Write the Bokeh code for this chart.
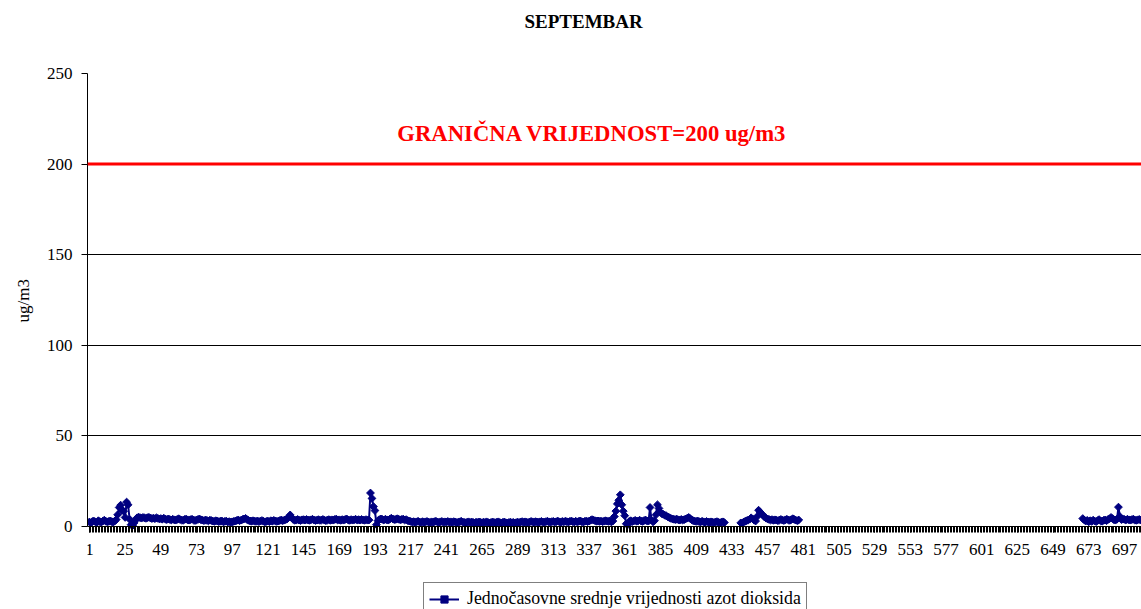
import math
import numpy as np
from bokeh.plotting import figure
from bokeh.models import Range1d, FixedTicker, Span, Label, Legend, LegendItem, LinearAxis, Title
from bokeh.embed import file_html
from bokeh.resources import INLINE

N = None
# Hourly NO2 values (ug/m3) for September, one row per day (24 hours)
day01 = [2.5, 2.0, 2.8, 3.0, 2.6, 2.2, 3.2, 2.7, 2.4, 3.0, 3.5, 2.9, 2.6, 2.8, 3.1, 2.7, 2.4, 3.0, 3.8, 6.5, 10.5, 11.8, 9.0, 8.5]
day02 = [5.0, 13.5, 12.0, 4.0, 1.0, 0.5, 2.0, 3.5, 4.8, 5.2, 4.9, 4.6, 5.0, 4.8, 4.5, 4.9, 5.1, 4.7, 4.4, 4.6, 4.3, 4.8, 4.5, 4.2]
day03 = [4.4, 4.0, 4.6, 4.1, 3.8, 4.2, 3.9, 3.6, 4.0, 3.7, 3.5, 3.9, 4.3, 3.8, 3.6, 3.4, 3.9, 4.1, 3.7, 3.5, 3.8, 4.0, 3.6, 3.3]
day04 = [3.6, 3.9, 4.2, 3.7, 3.5, 3.2, 3.6, 3.4, 3.1, 3.5, 3.3, 3.0, 2.8, 3.2, 3.0, 2.7, 2.9, 3.1, 2.6, 2.8, 3.0, 2.5, 2.7, 2.4]
day05 = [2.6, 2.8, 3.0, 3.3, 3.6, 3.2, 3.5, 3.9, 4.2, 4.5, 3.8, 3.4, 3.1, 2.9, 3.2, 3.0, 2.8, 3.1, 2.7, 3.0, 3.3, 2.9, 2.6, 2.8]
day06 = [3.0, 2.7, 3.2, 2.9, 3.4, 3.1, 2.8, 3.0, 3.3, 3.6, 3.2, 3.5, 3.8, 4.2, 5.2, 6.4, 5.0, 3.9, 3.4, 3.6, 3.9, 3.5, 3.3, 3.7]
day07 = [3.8, 3.5, 3.9, 3.6, 3.4, 3.7, 4.0, 3.6, 3.3, 3.5, 3.8, 3.4, 3.6, 3.9, 3.5, 3.2, 3.6, 3.8, 3.4, 3.7, 3.5, 3.9, 4.1, 3.6]
day08 = [3.7, 3.4, 3.8, 3.5, 3.9, 4.2, 3.6, 3.4, 3.8, 3.5, 3.7, 4.0, 3.6, 3.8, 3.5, 3.9, 3.6, 3.4, 3.8, 3.5, 3.6, 18.5, 15.5, 11.0]
day09 = [8.8, 1.0, 3.2, 3.8, 4.2, 3.9, 3.6, 4.0, 3.7, 3.5, 4.1, 4.6, 4.2, 3.8, 3.9, 4.3, 4.0, 3.7, 3.9, 4.1, 3.6, 3.8, 3.3, 3.0]
day10 = [2.8, 2.5, 2.7, 2.4, 2.6, 2.9, 2.5, 2.3, 2.7, 2.4, 2.6, 2.8, 2.5, 2.2, 2.6, 2.4, 2.7, 2.9, 2.5, 2.3, 2.6, 2.8, 2.4, 2.6]
day11 = [2.5, 2.8, 2.4, 2.6, 2.3, 2.7, 2.5, 2.2, 2.4, 2.6, 2.9, 2.5, 2.3, 2.1, 2.4, 2.6, 2.2, 2.5, 2.3, 2.0, 2.4, 2.2, 2.5, 2.3]
day12 = [2.1, 2.4, 2.2, 2.6, 2.3, 2.0, 2.2, 2.5, 2.3, 2.1, 2.4, 2.6, 2.2, 2.0, 2.3, 2.5, 2.1, 1.9, 2.2, 2.4, 2.1, 2.3, 2.0, 2.2]
day13 = [2.4, 2.2, 2.5, 2.7, 2.3, 2.6, 2.4, 2.2, 2.5, 2.8, 2.6, 2.4, 2.7, 2.5, 2.3, 2.6, 2.8, 2.5, 2.4, 2.7, 2.9, 2.6, 2.4, 2.7]
day14 = [2.8, 2.5, 2.7, 3.0, 2.6, 2.4, 2.8, 2.6, 2.9, 2.7, 2.5, 2.8, 3.0, 2.7, 2.5, 2.9, 2.6, 2.8, 3.1, 2.7, 2.5, 2.8, 3.0, 2.7]
day15 = [3.0, 3.4, 3.8, 3.5, 3.2, 2.9, 3.1, 2.8, 3.0, 2.7, 2.9, 3.2, 3.0, 2.8, 3.1, 2.5, 3.0, 5.5, 8.5, 12.5, 14.5, 17.5, 12.0, 8.5]
day16 = [6.0, 1.5, 1.0, 2.8, 3.2, 2.7, 3.0, 3.4, 2.9, 3.1, 3.5, 3.0, 2.8, 3.3, 3.6, 3.1, 3.0, 10.5, 3.5, 2.6, 3.2, 6.5, 12.0, 10.0]
day17 = [7.8, 7.0, 6.7, 6.2, 5.8, 5.3, 4.9, 4.5, 4.2, 4.0, 3.8, 4.1, 3.7, 3.5, 3.9, 3.6, 3.8, 4.2, 4.6, 5.0, 4.4, 3.7, 3.2, 3.0]
day18 = [2.8, 3.1, 2.7, 2.5, 2.9, 2.6, 2.4, 2.8, 2.5, 2.3, 2.6, 2.4, 2.2, 2.5, 2.7, 2.3, 2.1, 2.4, 2.6, 2.2, N, N, N, N]
day19 = [N, N, N, N, N, N, 2.0, 1.8, 2.5, 2.9, 3.2, 3.6, 4.0, 4.8, 4.2, 3.5, 3.0, 5.5, 9.0, 8.0, 7.0, 6.2, 5.2, 4.6]
day20 = [4.2, 3.9, 3.6, 3.8, 3.4, 3.7, 3.5, 3.2, 3.6, 3.9, 3.5, 3.3, 3.7, 4.0, 3.6, 3.4, 3.8, 4.3, 3.9, 3.5, 3.2, 3.6, N, N]
day21 = [N] * 24
day22 = [N] * 24
day23 = [N] * 24
day24 = [N] * 24
day25 = [N] * 24
day26 = [N] * 24
day27 = [N] * 24
day28 = [N] * 20 + [4.4, 3.6, 3.0, 3.4]
day29 = [2.6, 3.2, 2.8, 3.5, 3.0, 2.7, 3.3, 3.8, 3.1, 2.9, 3.4, 3.6, 3.2, 3.9, 4.3, 5.0, 4.4, 3.7, 3.5, 4.0, 10.7, 5.5, 3.8, 4.1]
day30 = [3.9, 3.6, 4.0, 3.7, 3.5, 3.8, 4.1, 3.6, 3.4, 3.7, 3.9, 3.5, 3.3, 3.6, 3.8, 3.4, 3.2, 3.5, 3.7, 3.4, 3.1, 3.3, 3.6, 3.4]

days = [day01, day02, day03, day04, day05, day06, day07, day08, day09, day10,
        day11, day12, day13, day14, day15, day16, day17, day18, day19, day20,
        day21, day22, day23, day24, day25, day26, day27, day28, day29, day30]
no2 = [float("nan") if v is None else v for d in days for v in d]
hours = list(range(1, len(no2) + 1))
x_tick_labels = list(range(1, 721, 24))
y_ticks = [0, 50, 100, 150, 200, 250]
limit_value = 200
title_text = "SEPTEMBAR"
limit_text = "GRANIČNA VRIJEDNOST=200 ug/m3"
series_name = "Jednočasovne srednje vrijednosti azot dioksida"
y_label = "ug/m3"

SERIF = "Liberation Serif"
NAVY = "#000080"

# frame runs to the bottom of the canvas; the x axis is pinned at y = 0
p = figure(width=1141, height=609, output_backend="svg", toolbar_location=None,
           x_range=Range1d(-0.3, 708.5), y_range=Range1d(-45.8, 250),
           min_border_left=87, min_border_right=0, min_border_top=73, min_border_bottom=0,
           background_fill_color="white", border_fill_color="white")
p.outline_line_color = None

xa = p.xaxis[0]
ya = p.yaxis[0]


def spacer_axis(size):
    # invisible axis used only to reserve vertical space above the frame
    return LinearAxis(ticker=FixedTicker(ticks=[10]), major_label_overrides={10: ""},
                      major_label_text_font_size="1px", major_label_standoff=0,
                      major_tick_out=size, major_tick_in=0, minor_tick_out=0, minor_tick_in=0,
                      axis_line_color=None, major_tick_line_color=None,
                      minor_tick_line_color=None)


# title
p.title.text = title_text
p.title.align = "left"
p.title.offset = 437
p.title.text_font = SERIF
p.title.text_font_size = "19px"
p.title.text_font_style = "bold"
p.title.text_color = "black"
p.title.standoff = 10

# grid
p.xgrid.visible = False
p.ygrid.ticker = FixedTicker(ticks=y_ticks)
p.ygrid.grid_line_color = "black"
p.ygrid.grid_line_width = 1

# x axis
xa.fixed_location = 0
xa.ticker = FixedTicker(ticks=x_tick_labels, minor_ticks=hours)
xa.major_tick_out = 6
xa.major_tick_in = 0
xa.minor_tick_out = 6
xa.minor_tick_in = 0
xa.major_tick_line_color = "black"
xa.minor_tick_line_color = "black"
xa.axis_line_color = "black"
xa.major_label_text_font = SERIF
xa.major_label_text_font_size = "17px"
xa.major_label_text_color = "black"
xa.major_label_standoff = 11

# y axis
ya.bounds = (0, 250)
ya.ticker = FixedTicker(ticks=y_ticks)
ya.major_tick_out = 6
ya.major_tick_in = 0
ya.minor_tick_line_color = None
ya.major_tick_line_color = "black"
ya.axis_line_color = "black"
ya.major_label_text_font = SERIF
ya.major_label_text_font_size = "17px"
ya.major_label_text_color = "black"
ya.major_label_standoff = 9

# y axis title, centred on the 0..250 span rather than on the whole frame
p.add_layout(Title(text=y_label, align="left", offset=287, standoff=22,
                   text_font=SERIF, text_font_size="17px", text_font_style="normal",
                   text_color="black"), "left")

# spacer between frame and title
p.add_layout(spacer_axis(37), "above")

# limit line and text
p.add_layout(Span(location=limit_value, dimension="width", line_color="#ff0000", line_width=3))
p.add_layout(Label(x=208, y=217, text=limit_text, text_color="#ff0000", text_font=SERIF,
                   text_font_size="22.7px", text_font_style="bold", text_baseline="alphabetic"))

# series
r_line = p.line(hours, no2, line_color=NAVY, line_width=2)
r_pts = p.scatter(hours, no2, marker="square", angle=math.pi / 4, size=5.5,
                  fill_color=NAVY, line_color=NAVY)

legend = Legend(items=[LegendItem(label=series_name, renderers=[r_line, r_pts])],
                location=(336, -6), padding=5, glyph_width=30, glyph_height=18,
                label_height=18, label_standoff=8, margin=0,
                border_line_color="black", border_line_width=1,
                background_fill_color="white", background_fill_alpha=1,
                label_text_font=SERIF, label_text_font_size="17.8px", label_text_color="black")
p.add_layout(legend, "center")

open("out.html", "w").write(file_html(p, INLINE))
